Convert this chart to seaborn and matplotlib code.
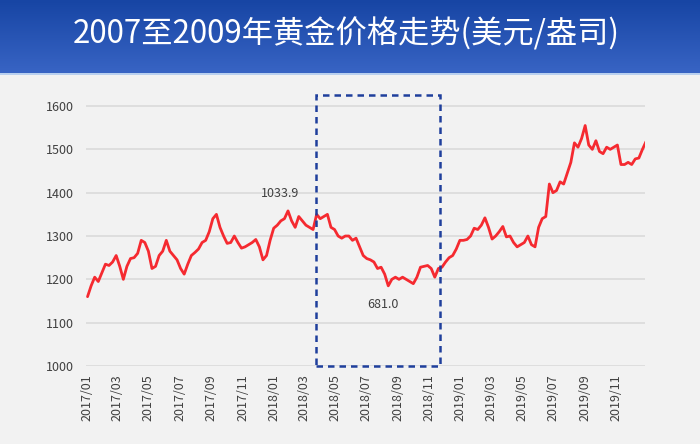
import numpy as np
import pandas as pd
import matplotlib
matplotlib.use("Agg")
import matplotlib.pyplot as plt
import matplotlib.dates as mdates
from matplotlib.patches import Rectangle
import seaborn as sns

# ---- data (weekly gold price) ----
start_date = "2017-01-02"
prices = [
    # 2017
    1160, 1185, 1205, 1195, 1215, 1235, 1232, 1240, 1255, 1230,
    1200, 1230, 1248, 1250, 1260, 1290, 1285, 1265, 1225, 1230,
    1255, 1265, 1290, 1265, 1255, 1245, 1225, 1212, 1235, 1255,
    1262, 1270, 1285, 1290, 1310, 1340, 1350, 1320, 1300, 1283,
    1285, 1300, 1285, 1272, 1275, 1280, 1285, 1292, 1275, 1245,
    1255, 1290,
    # 2018
    1318, 1325, 1335, 1340, 1358, 1335, 1320, 1345, 1335, 1325,
    1320, 1315, 1350, 1340, 1345, 1350, 1320, 1315, 1300, 1295,
    1300, 1300, 1290, 1295, 1275, 1255, 1248, 1245, 1240, 1225,
    1228, 1212, 1185, 1200, 1205, 1200, 1205, 1200, 1195, 1190,
    1205, 1228, 1230, 1232, 1225, 1205, 1225, 1228, 1240, 1250,
    1255, 1270,
    # 2019
    1290, 1290, 1292, 1300, 1318, 1315, 1325, 1342, 1320, 1293,
    1300, 1310, 1322, 1298, 1300, 1285, 1275, 1280, 1285, 1300,
    1280, 1275, 1320, 1340, 1345, 1420, 1400, 1405, 1425, 1420,
    1445, 1470, 1515, 1505, 1525, 1555, 1510, 1500, 1520, 1495,
    1490, 1505, 1500, 1505, 1510, 1465, 1465, 1470, 1465, 1478,
    1480, 1500, 1518,
]
dates = pd.date_range(start_date, periods=len(prices), freq="7D")

y_ticks = [1000, 1100, 1200, 1300, 1400, 1500, 1600]
title_text = "2007至2009年黄金价格走势(美元/盎司)"
label_high = "1033.9"
label_low = "681.0"
label_high_pos = ("2018-01-13", 1397)
label_low_pos = ("2018-08-03", 1143)
box_start, box_end = "2018-03-25", "2018-11-23"
box_low, box_high = 1000, 1625

df = pd.DataFrame({"date": dates, "price": prices})

sns.set_theme(style="white")
plt.rcParams["font.family"] = ["Noto Sans CJK SC", "DejaVu Sans"]

BG = "#f2f2f2"
fig = plt.figure(figsize=(7.0, 4.44), dpi=100, facecolor=BG)

# title band with gradient
tax = fig.add_axes([0, 1 - 73 / 444, 1, 73 / 444])
grad = np.linspace(0, 1, 100).reshape(-1, 1)
top = np.array([0x17, 0x45, 0xa4]) / 255
bot = np.array([0x38, 0x64, 0xc4]) / 255
img = top[None, None, :] * (1 - grad[:, :, None]) + bot[None, None, :] * grad[:, :, None]
tax.imshow(img, aspect="auto", extent=[0, 1, 0, 1])
tax.set_xlim(0, 1)
tax.set_ylim(0, 1)
tax.axis("off")
tax.text(346 / 700, 0.54, title_text, color="white", fontsize=22.5,
         ha="center", va="center")
lax = fig.add_axes([0, 1 - 75 / 444, 1, 2 / 444])
lax.set_facecolor("#b9d0ef")
lax.set_xticks([]); lax.set_yticks([])
for s in lax.spines.values():
    s.set_visible(False)

# main axes
ax = fig.add_axes([86 / 700, 1 - 366 / 444, (645 - 86) / 700, (366 - 88.7) / 444])
ax.set_facecolor(BG)
sns.lineplot(data=df, x="date", y="price", ax=ax, color="#f52a30", linewidth=2.0)

ax.set_ylim(1000, 1640)
ax.set_yticks(y_ticks)
ax.set_xlim(pd.Timestamp("2016-12-30"), pd.Timestamp("2019-12-28"))
ax.xaxis.set_major_locator(mdates.MonthLocator(bymonth=[1, 3, 5, 7, 9, 11]))
ax.xaxis.set_major_formatter(mdates.DateFormatter("%Y/%m"))
ax.grid(axis="y", color="#d9d9d9", linewidth=1.1)
ax.grid(axis="x", visible=False)
for s in ax.spines.values():
    s.set_visible(False)
ax.tick_params(axis="x", labelrotation=90, labelsize=9, colors="#404040",
               length=3, width=0.8, color="#d9d9d9", pad=3)
ax.tick_params(axis="y", labelsize=9, colors="#404040", length=0, pad=9)
ax.set_xlabel("")
ax.set_ylabel("")

ax.text(pd.Timestamp(label_high_pos[0]), label_high_pos[1], label_high,
        fontsize=9, color="#404040", ha="center", va="center")
ax.text(pd.Timestamp(label_low_pos[0]), label_low_pos[1], label_low,
        fontsize=9, color="#404040", ha="center", va="center")

x0 = mdates.date2num(pd.Timestamp(box_start))
x1 = mdates.date2num(pd.Timestamp(box_end))
rect = Rectangle((x0, box_low), x1 - x0, box_high - box_low, fill=False,
                 edgecolor="#1f3f9c", linewidth=1.8, linestyle=(0, (2.6, 2.0)),
                 clip_on=False, zorder=5)
ax.add_patch(rect)

fig.savefig("out.png", dpi=100, facecolor=BG)
